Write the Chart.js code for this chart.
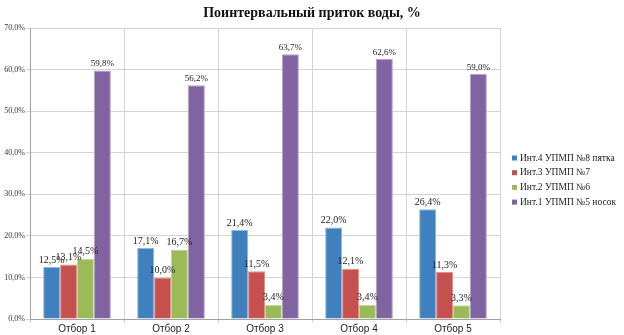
<!DOCTYPE html>
<html lang="ru">
<head>
    <meta charset="UTF-8">
    <title>Поинтервальный приток воды</title>
    <script src="https://cdn.jsdelivr.net/npm/chart.js"></script>
    <style>
        body {
            margin: 0;
            padding: 0;
            background-color: white;
        }

        .chart-box {
            width: 624px;
            height: 335px;
        }
    </style>
</head>
<body>

    <div class="chart-box">
        <canvas id="inflowChart"></canvas>
    </div>

    <script>
        // Samples and the inflow share (%) per interval
        var samples = ['Отбор 1', 'Отбор 2', 'Отбор 3', 'Отбор 4', 'Отбор 5'];
        var seriesNames = ['Инт.4 УПМП №8 пятка', 'Инт.3 УПМП №7', 'Инт.2 УПМП №6', 'Инт.1 УПМП №5 носок'];
        var int4 = [12.5, 17.1, 21.4, 22.0, 26.4];
        var int3 = [13.1, 10.0, 11.5, 12.1, 11.3];
        var int2 = [14.5, 16.7, 3.4, 3.4, 3.3];
        var int1 = [59.8, 56.2, 63.7, 62.6, 59.0];
        var yTicks = [0, 10, 20, 30, 40, 50, 60, 70];
        var chartTitle = 'Поинтервальный приток воды, %';

        var colors = ['#3f80bf', '#c6504d', '#9bbb59', '#8064a2'];
        var edges = ['#8fb6dd', '#df9290', '#c3d79c', '#b4a2ca'];
        var labelSizes = [10, 10, 10, 9];
        var serif = '"Liberation Serif", "Times New Roman", serif';

        function pct(v) {
            return v.toFixed(1).replace('.', ',') + '%';
        }

        // value labels above every bar
        var barLabels = {
            id: 'barLabels',
            afterDatasetsDraw: function(chart) {
                var ctx = chart.ctx;
                ctx.save();
                ctx.fillStyle = '#222';
                ctx.textAlign = 'center';
                ctx.textBaseline = 'bottom';
                chart.data.datasets.forEach(function(ds, i) {
                    ctx.font = labelSizes[i] + 'px ' + serif;
                    chart.getDatasetMeta(i).data.forEach(function(bar, j) {
                        ctx.fillText(pct(ds.data[j]), bar.x, bar.y - 2);
                    });
                });
                ctx.restore();
            }
        };

        // title centred on the whole canvas, legend on the right side
        var titleAndLegend = {
            id: 'titleAndLegend',
            afterDraw: function(chart) {
                var ctx = chart.ctx;
                ctx.save();
                ctx.font = 'bold 14px ' + serif;
                ctx.fillStyle = '#111';
                ctx.textAlign = 'center';
                ctx.textBaseline = 'middle';
                ctx.fillText(chartTitle, chart.width / 2, 13);

                var x = chart.chartArea.right + 12;
                var y0 = 158;
                ctx.font = '9.5px ' + serif;
                ctx.textAlign = 'left';
                chart.data.datasets.forEach(function(ds, i) {
                    var y = y0 + i * 14.7;
                    ctx.fillStyle = ds.backgroundColor;
                    ctx.fillRect(x, y - 2.5, 5, 5);
                    ctx.fillStyle = '#222';
                    ctx.fillText(ds.label, x + 8, y);
                });
                ctx.restore();
            }
        };

        var values = [int4, int3, int2, int1];
        var datasets = values.map(function(arr, i) {
            return {
                label: seriesNames[i],
                data: arr,
                backgroundColor: colors[i],
                borderColor: edges[i],
                borderWidth: 1,
                categoryPercentage: 0.72,
                barPercentage: 1.0
            };
        });

        var ctx = document.getElementById('inflowChart').getContext('2d');
        var inflowChart = new Chart(ctx, {
            type: 'bar',
            data: {
                labels: samples,
                datasets: datasets
            },
            options: {
                responsive: true,
                maintainAspectRatio: false,
                animation: false,
                layout: {
                    padding: { left: 0, right: 124, top: 28, bottom: 0 }
                },
                plugins: {
                    legend: { display: false },
                    tooltip: { enabled: false },
                    title: { display: false }
                },
                scales: {
                    x: {
                        grid: {
                            color: '#d4d4d4',
                            tickLength: 4,
                            offset: true
                        },
                        border: { color: '#a0a0a0' },
                        ticks: {
                            color: '#222',
                            padding: 0,
                            font: { family: '"Liberation Sans", Arial, sans-serif', size: 10 }
                        },
                        afterFit: function(scale) { scale.height = 16; }
                    },
                    y: {
                        min: 0,
                        max: 70,
                        afterBuildTicks: function(scale) {
                            scale.ticks = yTicks.map(function(v) { return { value: v }; });
                        },
                        grid: {
                            color: '#d4d4d4',
                            tickLength: 4
                        },
                        border: { color: '#a0a0a0' },
                        ticks: {
                            color: '#333',
                            padding: 1,
                            font: { family: serif, size: 8 },
                            callback: function(v) { return pct(v); }
                        },
                        afterFit: function(scale) { scale.width = 30; }
                    }
                }
            },
            plugins: [barLabels, titleAndLegend]
        });
    </script>
</body>
</html>
